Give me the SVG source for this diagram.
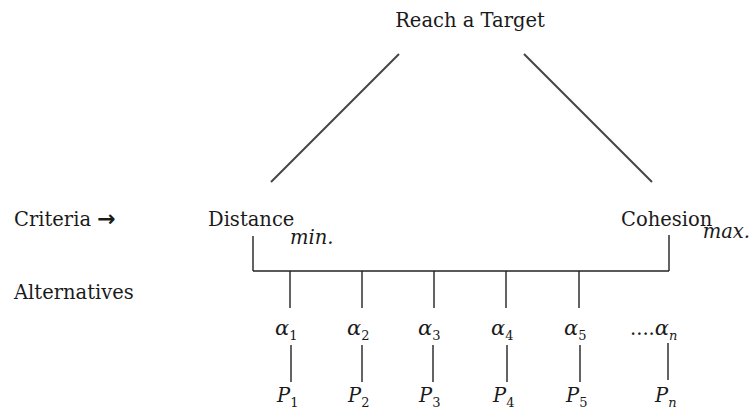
<svg xmlns="http://www.w3.org/2000/svg" width="754" height="414" viewBox="0 0 754 414">
<style>
text{font-family:"DejaVu Serif","Liberation Serif",serif;font-size:19.5px;fill:#1a1a1a}
.it{font-style:italic}
.al{font-size:21px}
.sub{font-size:13px;font-style:normal}
.subi{font-size:13px;font-style:italic}
.c line{stroke:#222;stroke-width:1.4}
.c .d{stroke:#444;stroke-width:2}
</style>
<rect width="754" height="414" fill="#fff"/>
<g id="goal"><text x="470" y="27" text-anchor="middle">Reach a Target</text></g>
<g id="labels">
<text x="14" y="226">Criteria <tspan font-family="DejaVu Sans,sans-serif" font-weight="bold" font-size="22">→</tspan></text>
<text x="14" y="299">Alternatives</text>
</g>
<g id="distance"><text x="208" y="226">Distance</text><text class="it" x="290" y="244" font-size="16.5">min.</text></g>
<g id="cohesion"><text x="621" y="226">Cohesion</text><text class="it" x="750" y="238" font-size="16" text-anchor="end">max.</text></g>
<g id="a1"><text class="it al" x="275" y="335">α<tspan class="sub" dy="5">1</tspan></text></g>
<g id="a2"><text class="it al" x="347" y="335">α<tspan class="sub" dy="5">2</tspan></text></g>
<g id="a3"><text class="it al" x="418" y="335">α<tspan class="sub" dy="5">3</tspan></text></g>
<g id="a4"><text class="it al" x="491" y="335">α<tspan class="sub" dy="5">4</tspan></text></g>
<g id="a5"><text class="it al" x="564" y="335">α<tspan class="sub" dy="5">5</tspan></text></g>
<g id="an"><text class="it" x="630" y="335"><tspan font-style="normal">....</tspan><tspan font-size="21">α</tspan><tspan class="subi" dy="5">n</tspan></text></g>
<g id="p1"><text class="it" x="277" y="402">P<tspan class="sub" dy="5">1</tspan></text></g>
<g id="p2"><text class="it" x="348" y="402">P<tspan class="sub" dy="5">2</tspan></text></g>
<g id="p3"><text class="it" x="419" y="402">P<tspan class="sub" dy="5">3</tspan></text></g>
<g id="p4"><text class="it" x="493" y="402">P<tspan class="sub" dy="5">4</tspan></text></g>
<g id="p5"><text class="it" x="566" y="402">P<tspan class="sub" dy="5">5</tspan></text></g>
<g id="pn"><text class="it" x="655" y="402">P<tspan class="subi" dy="5">n</tspan></text></g>
<g id="connectors" class="c">
<line class="d" x1="399" y1="54" x2="271" y2="182"/>
<line class="d" x1="524" y1="54" x2="652" y2="182"/>
<line x1="253" y1="236" x2="253" y2="271"/>
<line x1="669" y1="235" x2="669" y2="271"/>
<line x1="253" y1="271" x2="669" y2="271"/>
<line x1="290" y1="271" x2="290" y2="308"/>
<line x1="362" y1="271" x2="362" y2="308"/>
<line x1="434" y1="271" x2="434" y2="308"/>
<line x1="506" y1="271" x2="506" y2="308"/>
<line x1="579" y1="271" x2="579" y2="308"/>
<line x1="291" y1="345" x2="291" y2="382"/>
<line x1="362" y1="345" x2="362" y2="382"/>
<line x1="433" y1="345" x2="433" y2="382"/>
<line x1="507" y1="345" x2="507" y2="382"/>
<line x1="580" y1="345" x2="580" y2="382"/>
<line x1="668" y1="343" x2="668" y2="380"/>
</g>
</svg>
